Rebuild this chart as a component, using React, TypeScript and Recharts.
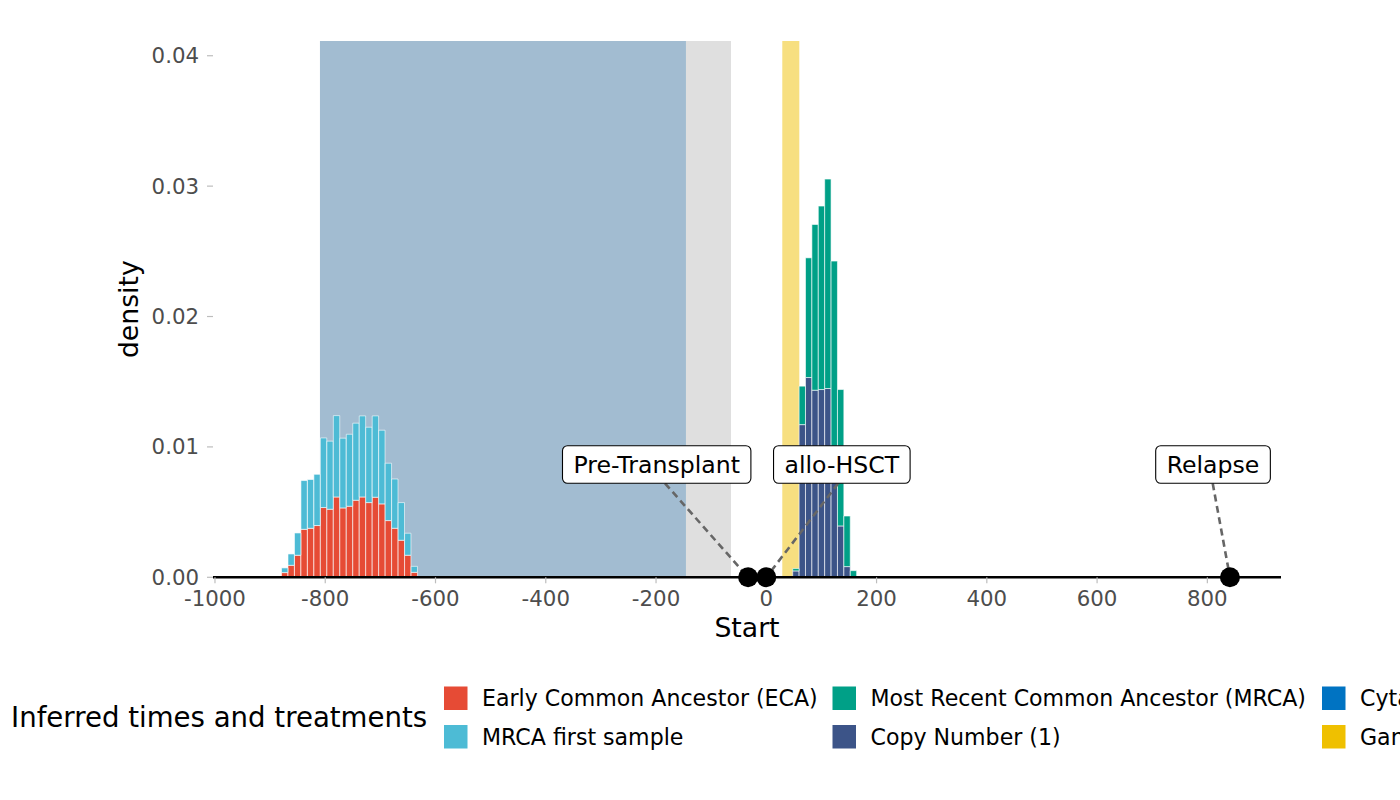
import React from 'react';
import {
  ComposedChart, Bar, XAxis, YAxis, Scatter, ReferenceArea, ReferenceLine,
} from 'recharts';

// early cluster: bin midpoints (days) and densities, stacked ECA + MRCA first sample
const EARLY_BINS = [
  -873.5, -861.8, -850.0, -838.3, -826.5, -814.8, -803.0, -791.3, -779.5, -767.8, -756.0,
  -744.3, -732.5, -720.8, -709.0, -697.3, -685.5, -673.8, -662.0, -650.3, -638.5,
];
const ECA = [
  0.00036, 0.00092, 0.00169, 0.00368, 0.00376, 0.00397, 0.00535, 0.00522, 0.00616, 0.00532, 0.00545,
  0.00591, 0.00616, 0.00573, 0.00614, 0.00563, 0.00435, 0.00376, 0.00284, 0.00169, 0.00038,
];
const MRCA_FIRST = [
  0.00036, 0.00087, 0.00171, 0.00374, 0.00374, 0.00393, 0.00534, 0.00522, 0.00624, 0.00535, 0.00552,
  0.00591, 0.00622, 0.00578, 0.00624, 0.00565, 0.0044, 0.00378, 0.00289, 0.00169, 0.00046,
];

// late cluster: stacked Copy Number (1) + MRCA
const LATE_BINS = [53.7, 65.3, 76.9, 88.5, 100.1, 111.7, 123.3, 134.9, 146.5, 158.1];
const COPY_NUMBER = [0.00049, 0.01171, 0.01532, 0.01435, 0.0144, 0.01448, 0.0088, 0.00394, 0.00082, 0];
const MRCA = [0.00018, 0.00295, 0.00918, 0.01271, 0.01407, 0.01606, 0.01545, 0.01046, 0.00388, 0.00051];

// shaded periods
const PERIOD_START = [-809.6, -145.7, 29.0];
const PERIOD_END = [-145.7, -64.0, 59.9];

// timeline events + repelled labels
const EVENT_NAMES = ['Pre-Transplant', 'allo-HSCT', 'Relapse'];
const EVENT_DAY = [-33, 0, 841];
const LABEL_DAY = [-198.8, 137.0, 810.3];
const LABEL_DENSITY = 0.00865;
const SEGMENT_FROM_DAY = [-183.7, 130.6, 809.7];
const SEGMENT_FROM_DENSITY = 0.00721;

const X_TICKS = [-1000, -800, -600, -400, -200, 0, 200, 400, 600, 800];
const Y_TICKS = [0, 0.01, 0.02, 0.03, 0.04];
const X_DOMAIN: [number, number] = [-1003.6, 933.6];
const Y_DOMAIN: [number, number] = [0, 0.04113];

const LEGEND_LABELS = [
  'Early Common Ancestor (ECA)', 'MRCA first sample',
  'Most Recent Common Ancestor (MRCA)', 'Copy Number (1)',
  'Cytarabine', 'Ganciclovir',
];

const COLORS = {
  eca: '#E64B35',
  mrcaFirst: '#4DBBD5',
  mrca: '#00A087',
  copyNumber: '#3C5488',
  cytarabine: '#0073C2',
  ganciclovir: '#EFC000',
};
const PERIOD_FILL = ['#A2BCD1', '#DFDFDF', '#F7DF80'];
const LEGEND_COLORS = [
  COLORS.eca, COLORS.mrcaFirst, COLORS.mrca, COLORS.copyNumber, COLORS.cytarabine, COLORS.ganciclovir,
];

const FONT = 'DejaVu Sans';
const W = 1400;
const H = 800;
const PLOT_LEFT = 213;
const PLOT_RIGHT = 1281;
const PLOT_TOP = 41;
const PLOT_BOTTOM = 577.3;
const Y_AXIS_W = 100;
const X_AXIS_H = 60;
const BIN_DAYS = 11.58;
const BAR_PX = ((PLOT_RIGHT - PLOT_LEFT) / (X_DOMAIN[1] - X_DOMAIN[0])) * BIN_DAYS;

const rows = [
  ...EARLY_BINS.map((x, i) => ({ x, eca: ECA[i], mrcaFirst: MRCA_FIRST[i], copyNumber: 0, mrca: 0 })),
  ...LATE_BINS.map((x, i) => ({ x, eca: 0, mrcaFirst: 0, copyNumber: COPY_NUMBER[i], mrca: MRCA[i] })),
];
const events = EVENT_NAMES.map((name, i) => ({ x: EVENT_DAY[i], y: 0, name }));
const labels = EVENT_NAMES.map((name, i) => ({ x: LABEL_DAY[i], y: LABEL_DENSITY, name }));

const LABEL_FONT = 23.6;
let ctx: CanvasRenderingContext2D | null = null;
function textWidth(s: string) {
  if (!ctx) ctx = document.createElement('canvas').getContext('2d');
  if (!ctx) return s.length * LABEL_FONT * 0.6;
  ctx.font = `${LABEL_FONT}px "${FONT}"`;
  return ctx.measureText(s).width;
}

function EventDot(props: any) {
  return <circle cx={props.cx} cy={props.cy} r={10} fill="#000" />;
}

function EventLabel(props: any) {
  const { cx, cy, payload } = props;
  const w = textWidth(payload.name) + 22;
  const h = 37.6;
  return (
    <g>
      <rect x={cx - w / 2} y={cy - h / 2} width={w} height={h} rx={5} fill="#fff" stroke="#000" strokeWidth={1.1} />
      <text x={cx} y={cy + 8.8} textAnchor="middle" fontSize={LABEL_FONT} fontFamily={FONT} fill="#000">
        {payload.name}
      </text>
    </g>
  );
}

function LegendBlock() {
  const colX = [444, 832.5, 1322];
  const rowY = [686.5, 725];
  return (
    <svg width={W} height={H} style={{ position: 'absolute', left: 0, top: 0, pointerEvents: 'none' }}>
      <text x={11} y={727} fontSize={27.6} fontFamily={FONT} fill="#000">Inferred times and treatments</text>
      {LEGEND_LABELS.map((label, i) => {
        const x = colX[Math.floor(i / 2)];
        const y = rowY[i % 2];
        return (
          <g key={label}>
            <rect x={x} y={y} width={23.5} height={23.5} fill={LEGEND_COLORS[i]} />
            <text x={x + 38} y={y + 19.8} fontSize={22.1} fontFamily={FONT} fill="#000">{label}</text>
          </g>
        );
      })}
    </svg>
  );
}

export default function App() {
  const tick = { fill: '#4D4D4D', fontSize: 21.3, fontFamily: FONT };
  const barProps = {
    stackId: 'h',
    stroke: '#FFFFFF',
    strokeOpacity: 0.75,
    strokeWidth: 0.8,
    barSize: BAR_PX,
    isAnimationActive: false,
  };
  return (
    <div style={{ position: 'relative', width: W, height: H, overflow: 'hidden', background: '#fff', fontFamily: FONT }}>
      <style>{'body{margin:0}'}</style>
      <ComposedChart
        width={W}
        height={H}
        data={rows}
        barCategoryGap={0}
        barGap={0}
        margin={{
          top: PLOT_TOP,
          right: W - PLOT_RIGHT,
          bottom: H - PLOT_BOTTOM - X_AXIS_H,
          left: PLOT_LEFT - Y_AXIS_W,
        }}
      >
        <XAxis
          dataKey="x"
          type="number"
          domain={X_DOMAIN}
          ticks={X_TICKS}
          height={X_AXIS_H}
          tick={tick}
          tickSize={6}
          tickMargin={8}
          tickLine={{ stroke: '#BDBDBD', strokeWidth: 1.2 }}
          axisLine={false}
          label={{ value: 'Start', position: 'insideTop', offset: 41.2, fill: '#000', fontSize: 26.7, fontFamily: FONT }}
        />
        {/* events/labels on their own hidden x axis so they don't shrink the bar band */}
        <XAxis xAxisId="ev" dataKey="x" type="number" domain={X_DOMAIN} hide />
        <YAxis
          type="number"
          domain={Y_DOMAIN}
          ticks={Y_TICKS}
          width={Y_AXIS_W}
          tick={tick}
          tickSize={6}
          tickMargin={8}
          tickFormatter={(v: number) => v.toFixed(2)}
          tickLine={{ stroke: '#BDBDBD', strokeWidth: 1.2 }}
          axisLine={false}
          label={{
            value: 'density', angle: -90, position: 'insideLeft', offset: 16,
            fill: '#000', fontSize: 26.7, fontFamily: FONT, style: { textAnchor: 'middle' },
          }}
        />
        {PERIOD_START.map((x1, i) => (
          <ReferenceArea key={`p${i}`} x1={x1} x2={PERIOD_END[i]} fill={PERIOD_FILL[i]} fillOpacity={1} stroke="none" />
        ))}
        <Bar dataKey="eca" fill={COLORS.eca} {...barProps} />
        <Bar dataKey="mrcaFirst" fill={COLORS.mrcaFirst} {...barProps} />
        <Bar dataKey="copyNumber" fill={COLORS.copyNumber} {...barProps} />
        <Bar dataKey="mrca" fill={COLORS.mrca} {...barProps} />
        <ReferenceLine y={0} stroke="#000" strokeWidth={2.6} />
        {EVENT_DAY.map((x, i) => (
          <ReferenceLine
            key={`s${i}`}
            segment={[{ x: SEGMENT_FROM_DAY[i], y: SEGMENT_FROM_DENSITY }, { x, y: 0 }]}
            stroke="#666666"
            strokeWidth={2.6}
            strokeDasharray="7 4.5"
          />
        ))}
        <Scatter xAxisId="ev" data={events} dataKey="y" shape={EventDot} isAnimationActive={false} />
        <Scatter xAxisId="ev" data={labels} dataKey="y" shape={EventLabel} isAnimationActive={false} />
      </ComposedChart>
      <LegendBlock />
    </div>
  );
}
